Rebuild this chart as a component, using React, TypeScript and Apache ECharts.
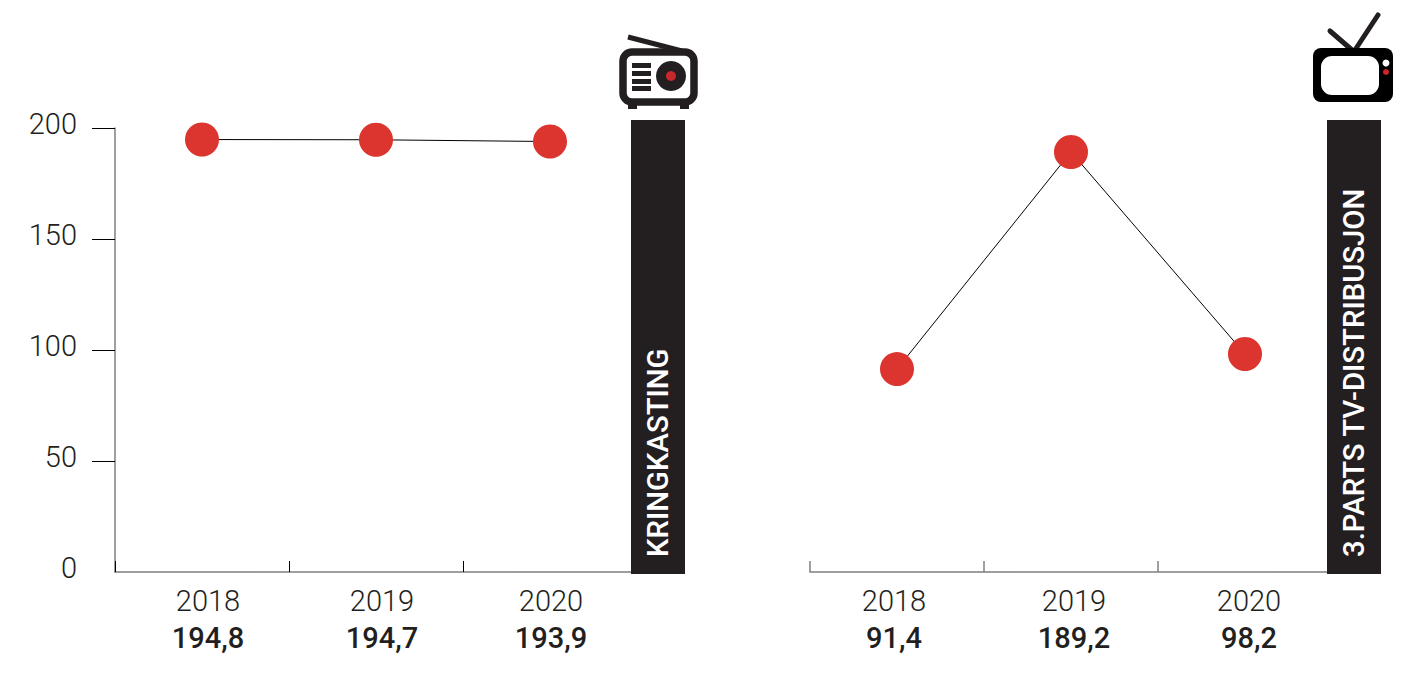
import React, { useEffect, useRef } from "react";
import * as echarts from "echarts";

const years = ["2018", "2019", "2020"];
const broadcastValues = [194.8, 194.7, 193.9];
const broadcastLabels = ["194,8", "194,7", "193,9"];
const tvValues = [91.4, 189.2, 98.2];
const tvLabels = ["91,4", "189,2", "98,2"];
const yTickValues = [50, 100, 150, 200];
const broadcastTitle = "KRINGKASTING";
const tvTitle = "3.PARTS TV-DISTRIBUSJON";
const broadcastLabelShift = [6, 6, 1];
const tvLabelShift = [-3, 3, 4];

const FONT = "Roboto";
const RED = "#dc3530";
const DARK = "#231f20";

function richFor(shifts: number[]) {
  const rich: Record<string, object> = {};
  shifts.forEach((s, i) => {
    const padding = s >= 0 ? [0, 0, 0, s * 2] : [0, -s * 2, 0, 0];
    rich[`y${i}`] = { fontFamily: FONT, fontWeight: 300, fontSize: 29, color: DARK, lineHeight: 37, padding };
    rich[`v${i}`] = { fontFamily: FONT, fontWeight: 500, fontSize: 29, color: DARK, lineHeight: 37, padding };
  });
  return rich;
}

function xAxis(gridIndex: number, labels: string[], shifts: number[], tickColor: string, tickWidth: number) {
  return {
    type: "category",
    gridIndex,
    data: years,
    boundaryGap: true,
    axisLine: { show: true, lineStyle: { color: "#7f7f7f", width: 1.5 } },
    axisTick: { show: true, inside: true, length: 11, alignWithLabel: false, lineStyle: { color: tickColor, width: tickWidth } },
    axisLabel: {
      show: true,
      margin: 10,
      interval: 0,
      formatter: (v: string, i: number) => `{y${i}|${v}}\n{v${i}|${labels[i]}}`,
      rich: richFor(shifts),
    },
  };
}

function panel(x: number, title: string) {
  return [
    { type: "rect", z: 50, shape: { x, y: 120, width: 54, height: 454 }, style: { fill: DARK } },
    {
      type: "text", z: 51, x: x + 27, y: 557, rotation: Math.PI / 2,
      style: { text: title, fill: "#ffffff", font: `500 29.3px ${FONT}`, textAlign: "left", textVerticalAlign: "middle" },
    },
  ];
}

const bar = (y: number, h: number) => ({
  type: "rect", z: 53, shape: { x: 632, y, width: 19, height: h }, style: { fill: DARK },
});

const radioIcon = [
  { type: "line", z: 52, shape: { x1: 628, y1: 37, x2: 682, y2: 51 }, style: { stroke: DARK, lineWidth: 5 } },
  { type: "rect", z: 52, shape: { x: 628, y: 100, width: 9, height: 9 }, style: { fill: DARK } },
  { type: "rect", z: 52, shape: { x: 680, y: 100, width: 9, height: 9 }, style: { fill: DARK } },
  { type: "rect", z: 52, shape: { x: 623, y: 52, width: 71, height: 50, r: 9 }, style: { fill: "#ffffff", stroke: DARK, lineWidth: 7.5 } },
  bar(63, 5), bar(71, 5), bar(79, 5), bar(86, 5),
  { type: "circle", z: 53, shape: { cx: 671, cy: 76, r: 15 }, style: { fill: DARK } },
  { type: "circle", z: 54, shape: { cx: 671, cy: 76, r: 5 }, style: { fill: "#c8272c" } },
];

const tvIcon = [
  { type: "line", z: 52, shape: { x1: 1330, y1: 31, x2: 1352, y2: 50 }, style: { stroke: DARK, lineWidth: 5, lineCap: "round" } },
  { type: "line", z: 52, shape: { x1: 1378, y1: 15, x2: 1355, y2: 50 }, style: { stroke: DARK, lineWidth: 5, lineCap: "round" } },
  { type: "rect", z: 52, shape: { x: 1313, y: 48, width: 80, height: 54, r: 8 }, style: { fill: "#000000" } },
  { type: "rect", z: 53, shape: { x: 1321, y: 56, width: 58, height: 39, r: 11 }, style: { fill: "#ffffff" } },
  { type: "circle", z: 53, shape: { cx: 1386, cy: 63, r: 3.5 }, style: { fill: "#ffffff" } },
  { type: "circle", z: 53, shape: { cx: 1386, cy: 72, r: 3 }, style: { fill: "#d2232a" } },
];

function lineSeries(index: number, data: number[]) {
  return {
    type: "line",
    xAxisIndex: index,
    yAxisIndex: index,
    data,
    symbol: "circle",
    symbolSize: 34,
    itemStyle: { color: RED },
    lineStyle: { color: "#000000", width: 1 },
    silent: true,
  };
}

export default function App() {
  const ref = useRef<HTMLDivElement>(null);
  useEffect(() => {
    const chart = echarts.init(ref.current!, null, { renderer: "svg" });
    chart.setOption({
      animation: false,
      backgroundColor: "#ffffff",
      grid: [
        { left: 115, right: 788, top: 128, bottom: 128 },
        { left: 810, right: 93, top: 128, bottom: 128 },
      ],
      xAxis: [
        xAxis(0, broadcastLabels, broadcastLabelShift, "#000000", 1),
        xAxis(1, tvLabels, tvLabelShift, "#7f7f7f", 1.5),
      ],
      yAxis: [
        {
          type: "value", gridIndex: 0, min: 0, max: 200, interval: 50,
          splitLine: { show: false },
          axisLine: { show: true, lineStyle: { color: "#7f7f7f", width: 1.5 } },
          axisTick: { show: true, length: 23, customValues: yTickValues, lineStyle: { color: "#000000", width: 1 } },
          axisLabel: { margin: 38, fontFamily: FONT, fontWeight: 300, fontSize: 29, color: DARK, verticalAlign: "bottom", lineHeight: 8 },
        },
        {
          type: "value", gridIndex: 1, min: 0, max: 200, interval: 50, show: false,
          splitLine: { show: false },
        },
      ],
      series: [lineSeries(0, broadcastValues), lineSeries(1, tvValues)],
      graphic: {
        elements: [...panel(631, broadcastTitle), ...panel(1327, tvTitle), ...radioIcon, ...tvIcon],
      },
    });
    return () => chart.dispose();
  }, []);
  return <div ref={ref} style={{ position: "absolute", left: 0, top: 0, width: 1425, height: 700 }} />;
}
